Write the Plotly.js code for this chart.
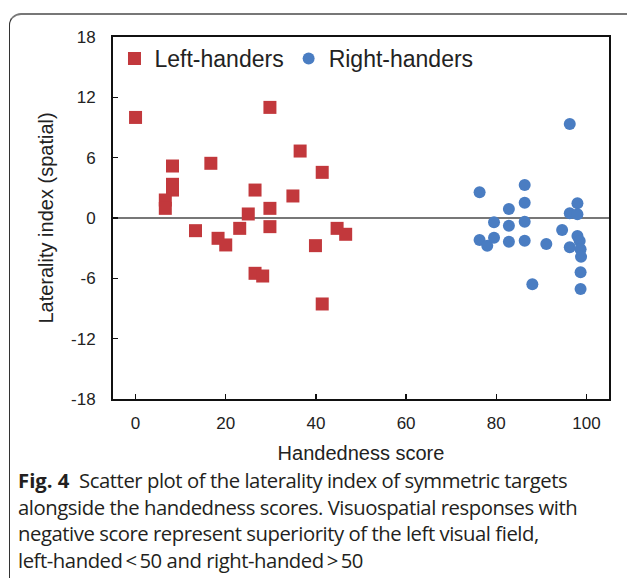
<!DOCTYPE html>
<html>
<head>
<meta charset="utf-8">
<script src="https://cdn.plot.ly/plotly-3.0.1.min.js"></script>
<style>
  html, body { margin: 0; padding: 0; background: #fff; }
  body { width: 627px; height: 578px; position: relative; overflow: hidden; }
  #frame { position: absolute; left: 9px; top: 13px; width: 640px; height: 600px;
           border-top: 2px solid #777; border-left: 1.5px solid #333; border-top-left-radius: 12px; box-sizing: border-box; }
  #chart { position: absolute; left: 0; top: 0; width: 627px; height: 578px; }
  #caption { position: absolute; left: 18px; top: 467px; width: 610px;
             font-family: "Open Sans", "Noto Sans", sans-serif; font-size: 20.3px; line-height: 26.7px;
             color: #231f20; letter-spacing: -0.45px; white-space: nowrap; }
  #caption b { font-weight: 700; letter-spacing: 0; }
</style>
</head>
<body>
<div id="frame"></div>
<div id="chart"></div>
<div id="caption"><b>Fig. 4</b>&nbsp; Scatter plot of the laterality index of symmetric targets<br>alongside the handedness scores. Visuospatial responses with<br>negative score represent superiority of the left visual field,<br>left-handed&thinsp;&lt;&thinsp;50 and right-handed&thinsp;&gt;&thinsp;50</div>
<script>
// Left-handers
const leftX = [0, 29.8, 36.5, 8.2, 16.7, 41.4, 8.2, 8.2, 6.6, 6.6, 26.5, 34.9, 29.8, 25, 13.3, 23.1, 29.8, 44.7, 46.6, 18.3, 20, 39.9, 26.5, 28.2, 41.4];
const leftY = [10, 11, 6.66, 5.17, 5.44, 4.54, 3.35, 2.78, 1.79, 0.96, 2.78, 2.19, 0.96, 0.4, -1.26, -1.03, -0.86, -1.03, -1.62, -2.02, -2.68, -2.75, -5.5, -5.77, -8.55];
// Right-handers
const rightX = [96.3, 76.3, 86.3, 86.3, 82.8, 98, 96.3, 98, 79.5, 82.8, 86.3, 94.6, 76.3, 78, 79.5, 82.8, 86.3, 91.1, 96.3, 98, 98.5, 98.7, 98.8, 98.7, 98.7, 88];
const rightY = [9.34, 2.55, 3.28, 1.52, 0.89, 1.46, 0.47, 0.37, -0.43, -0.77, -0.37, -1.19, -2.19, -2.75, -1.96, -2.36, -2.26, -2.58, -2.91, -1.79, -2.29, -3.1, -3.85, -5.4, -7.06, -6.59];
const xTicks = [0, 20, 40, 60, 80, 100];
const yTicks = [-18, -12, -6, 0, 6, 12, 18];

const axisFont = {family: "Liberation Sans, Arial, sans-serif", size: 17, color: "#222"};
const titleFont = {family: "Liberation Sans, Arial, sans-serif", size: 20, color: "#222"};

const traces = [
  {x: leftX, y: leftY, type: "scatter", mode: "markers", name: "Left-handers",
   marker: {symbol: "square", size: 13, color: "#C2383C"}},
  {x: rightX, y: rightY, type: "scatter", mode: "markers", name: "Right-handers",
   marker: {symbol: "circle", size: 12, color: "#4A7DC2"}}
];

const layout = {
  width: 627, height: 578,
  paper_bgcolor: "rgba(0,0,0,0)", plot_bgcolor: "rgba(0,0,0,0)",
  margin: {l: 113, r: 18, t: 37, b: 179},
  showlegend: true,
  legend: {orientation: "h", x: 0.003, y: 1.0, xanchor: "left", yanchor: "top",
           font: {family: "Liberation Sans, Arial, sans-serif", size: 23, color: "#222"},
           bgcolor: "rgba(0,0,0,0)", itemwidth: 30, tracegroupgap: 0},
  xaxis: {range: [-5, 105], tickvals: xTicks, ticktext: xTicks.map(String),
          showgrid: false, zeroline: false, showline: true, mirror: true,
          linecolor: "#111", linewidth: 2, ticks: "inside", ticklen: 5, tickwidth: 1.5, tickcolor: "#111",
          tickfont: axisFont, ticklabelstandoff: 8,
          title: {text: "Handedness score", font: titleFont, standoff: 14}, automargin: true},
  yaxis: {range: [-18, 18], tickvals: yTicks, ticktext: yTicks.map(String),
          showgrid: false, zeroline: true, zerolinecolor: "#777", zerolinewidth: 2,
          showline: true, mirror: true,
          linecolor: "#111", linewidth: 2, ticks: "inside", ticklen: 5, tickwidth: 1.5, tickcolor: "#111",
          tickfont: axisFont, ticklabelstandoff: 12,
          title: {text: "Laterality index (spatial)", font: titleFont, standoff: 12}, automargin: true}
};

Plotly.newPlot("chart", traces, layout, {displayModeBar: false, staticPlot: true});
</script>
</body>
</html>
